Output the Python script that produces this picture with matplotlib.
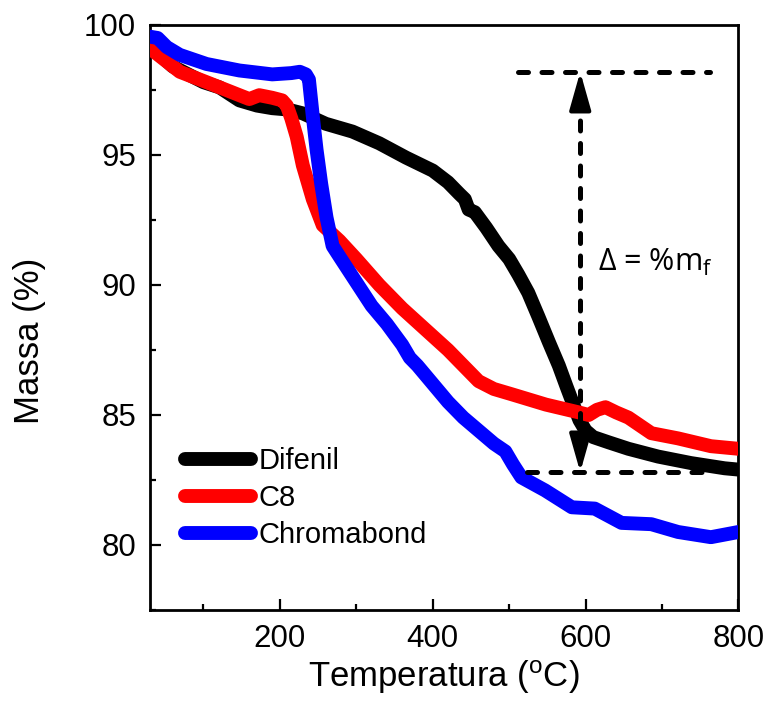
import matplotlib
matplotlib.use('Agg')
import matplotlib.pyplot as plt
from matplotlib.ticker import MultipleLocator

plt.rcParams['font.family'] = ['Liberation Sans', 'DejaVu Sans']
plt.rcParams['mathtext.default'] = 'regular'

# Curvas termogravimetricas
temp_difenil = [30, 45, 60, 80, 100, 121, 147, 170, 190, 210, 230, 260, 295, 330,
                365, 400, 420, 435, 442, 447, 455, 470, 486, 500, 512, 525, 538,
                552, 565, 575, 584, 592, 600, 610, 630, 656, 695, 738, 782, 800]
massa_difenil = [99.2, 98.8, 98.4, 98.1, 97.8, 97.6, 97.1, 96.9, 96.8, 96.75, 96.6,
                 96.2, 95.9, 95.45, 94.9, 94.4, 93.95, 93.5, 93.3, 92.9, 92.8, 92.2,
                 91.5, 91.0, 90.4, 89.7, 88.8, 87.8, 86.9, 86.1, 85.4, 84.8, 84.4,
                 84.15, 83.95, 83.7, 83.4, 83.15, 82.95, 82.9]

temp_c8 = [30, 43, 69, 104, 147, 160, 173, 190, 203, 209, 215, 222, 230, 243, 256,
           278, 300, 330, 360, 390, 420, 440, 460, 480, 503, 548, 591, 604, 615,
           626, 640, 656, 686, 721, 764, 800]
massa_c8 = [99.1, 98.8, 98.2, 97.8, 97.3, 97.15, 97.3, 97.2, 97.1, 96.9, 96.4, 95.7,
            94.6, 93.3, 92.3, 91.7, 91.0, 90.0, 89.1, 88.3, 87.5, 86.9, 86.3, 86.0,
            85.8, 85.4, 85.1, 85.0, 85.2, 85.3, 85.1, 84.9, 84.3, 84.1, 83.8, 83.7]

temp_chroma = [30, 40, 52, 69, 104, 147, 190, 215, 226, 234, 238, 243, 248, 254,
               261, 269, 280, 300, 320, 340, 360, 370, 380, 400, 420, 440, 460,
               480, 495, 505, 516, 547, 582, 612, 647, 686, 721, 764, 800]
massa_chroma = [99.55, 99.5, 99.15, 98.85, 98.5, 98.25, 98.1, 98.15, 98.2, 98.1,
                97.9, 96.5, 95.2, 93.9, 92.6, 91.5, 91.0, 90.1, 89.2, 88.5, 87.7,
                87.2, 86.9, 86.2, 85.5, 84.9, 84.4, 83.9, 83.6, 83.1, 82.6, 82.1,
                81.45, 81.4, 80.85, 80.8, 80.5, 80.3, 80.5]

# Indicacao da perda de massa
delta_x = 593
delta_topo = 98.2
delta_base = 82.8
linha_topo_x = [512, 763]
linha_base_x = [523, 770]

fig = plt.figure(figsize=(7.66, 7.2), dpi=100)
ax = fig.add_axes([0.1958, 0.1528, 0.7682, 0.8125])

ax.plot(temp_difenil, massa_difenil, color='black', lw=10,
        solid_capstyle='round', solid_joinstyle='round', label='Difenil', zorder=2)
ax.plot(temp_c8, massa_c8, color='#ff0000', lw=10,
        solid_capstyle='round', solid_joinstyle='round', label='C8', zorder=3)
ax.plot(temp_chroma, massa_chroma, color='#0000ff', lw=10,
        solid_capstyle='round', solid_joinstyle='round', label='Chromabond', zorder=4)

# linhas tracejadas de referencia
estilo = dict(color='black', lw=3.6, dash_capstyle='round', zorder=5)
ax.plot(linha_topo_x, [delta_topo, delta_topo], linestyle=(0, (2, 2.7)), **estilo)
ax.plot(linha_base_x, [delta_base, delta_base], linestyle=(0, (2, 2.7)), **estilo)
ax.plot([delta_x, delta_x], [delta_topo - 1.0, delta_base + 1.0],
        linestyle=(0, (2, 2.5)), **estilo)

for y_ini, y_fim in [(delta_topo - 1.3, delta_topo), (delta_base + 1.3, delta_base)]:
    ax.annotate('', xy=(delta_x, y_fim), xytext=(delta_x, y_ini),
                arrowprops=dict(arrowstyle='-|>,head_length=2.3,head_width=0.65',
                                color='black', lw=3, shrinkA=0, shrinkB=0),
                zorder=6)

ax.text(616, 90.85, r'$\Delta$ = %m$_\mathregular{f}$', fontsize=22,
        family=['Open Sans', 'DejaVu Sans'], va='center', ha='left')

ax.set_xlim(30, 800)
ax.set_ylim(77.5, 100)
ax.xaxis.set_major_locator(MultipleLocator(200))
ax.xaxis.set_minor_locator(MultipleLocator(100))
ax.yaxis.set_major_locator(MultipleLocator(5))
ax.yaxis.set_minor_locator(MultipleLocator(2.5))

ax.tick_params(which='both', direction='in', top=False, right=False,
               labelsize=22.5, pad=10, width=1.6)
ax.tick_params(which='major', length=8)
ax.tick_params(which='minor', length=4.5)
for sp in ax.spines.values():
    sp.set_linewidth(2.0)

ax.set_xlabel('Temperatura ($^\\mathregular{o}$C)', fontsize=25)
ax.set_ylabel('Massa (%)', fontsize=25)
ax.xaxis.set_label_coords(0.5, -0.082)
ax.yaxis.set_label_coords(-0.176, 0.46)

leg = ax.legend(loc='upper left', bbox_to_anchor=(0.06, 0.278), frameon=False,
                fontsize=21, handlelength=2.25, handletextpad=0.25,
                labelspacing=0.3, borderpad=0, borderaxespad=0)
for h in leg.get_lines():
    h.set_linewidth(10)
    h.set_solid_capstyle('round')

fig.savefig('out.png', dpi=100)
